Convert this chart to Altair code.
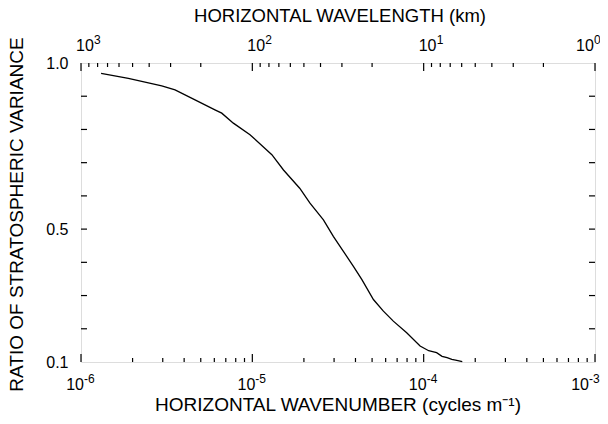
import altair as alt
import pandas as pd

# ---- data ----
wavenumber = [1.31e-6, 1.89e-6, 2.96e-6, 3.54e-6, 4.63e-6, 6.05e-6, 6.63e-6, 7.75e-6,
              9.69e-6, 1.30e-5, 1.52e-5, 1.89e-5, 2.17e-5, 2.60e-5, 2.97e-5, 3.40e-5,
              3.89e-5, 4.36e-5, 5.09e-5, 5.82e-5, 6.65e-5, 7.96e-5, 9.53e-5, 1.07e-4,
              1.19e-4, 1.28e-4, 1.37e-4, 1.46e-4, 1.56e-4, 1.68e-4]
ratio = [0.969, 0.954, 0.931, 0.919, 0.889, 0.859, 0.849, 0.819,
         0.784, 0.724, 0.678, 0.623, 0.578, 0.528, 0.478, 0.433,
         0.388, 0.348, 0.288, 0.253, 0.223, 0.188, 0.148, 0.134,
         0.128, 0.117, 0.113, 0.108, 0.105, 0.101]

bottom_major = [1e-6, 1e-5, 1e-4, 1e-3]
bottom_exp = ["-6", "-5", "-4", "-3"]
bottom_minor = [2e-6, 3e-6, 4e-6, 5e-6, 6e-6, 7e-6, 8e-6, 9e-6,
                2e-5, 3e-5, 4e-5, 5e-5, 6e-5, 7e-5, 8e-5, 9e-5,
                2e-4, 3e-4, 4e-4, 5e-4, 6e-4, 7e-4, 8e-4, 9e-4]

top_major_km = [1000, 100, 10, 1]
top_exp = ["3", "2", "1", "0"]
top_minor_km = [900, 800, 700, 600, 500, 400, 300, 200,
                90, 80, 70, 60, 50, 40, 30, 20,
                9, 8, 7, 6, 5, 4, 3, 2]

y_ticks = [0.2, 0.3, 0.4, 0.5, 0.6, 0.7, 0.8, 0.9]
y_labels = [0.1, 0.5, 1.0]

x_title = "HORIZONTAL WAVENUMBER (cycles m\u207b\u00b9)"
top_title = "HORIZONTAL WAVELENGTH (km)"
y_title = "RATIO OF STRATOSPHERIC VARIANCE"

# ---- layout ----
W, H = 514, 299
FONT = "Liberation Sans"

xs = alt.Scale(type="log", domain=[1e-6, 1e-3])
ys = alt.Scale(domain=[0.1, 1.0], zero=False, nice=False)
yaxis = alt.Axis(values=y_labels, format=".1f", ticks=False, domain=False, grid=False,
                 labelFontSize=16, labelFont=FONT, labelColor="black", labelPadding=13,
                 title=None)

curve = pd.DataFrame({"k": wavenumber, "r": ratio})
bmaj = pd.DataFrame({"k": bottom_major, "e": bottom_exp})
bmin = pd.DataFrame({"k": bottom_minor})
tmaj = pd.DataFrame({"wl": top_major_km, "e": top_exp})
tmin = pd.DataFrame({"wl": top_minor_km})
yt = pd.DataFrame({"v": y_ticks})

X = lambda f: alt.X(f, type="quantitative", scale=xs, axis=None)

line = alt.Chart(curve).mark_line(color="black", strokeWidth=1.3).encode(
    x=X("k"), y=alt.Y("r:Q", scale=ys, axis=yaxis))

b_major_ticks = alt.Chart(bmaj).mark_rule(color="black", strokeWidth=1.2).encode(
    x=X("k"), y=alt.value(H), y2=alt.value(H - 8))
b_minor_ticks = alt.Chart(bmin).mark_rule(color="black", strokeWidth=1.2).encode(
    x=X("k"), y=alt.value(H), y2=alt.value(H - 4))

t_major_ticks = alt.Chart(tmaj).transform_calculate(k="1e-3 / datum.wl").mark_rule(
    color="black", strokeWidth=1.2).encode(x=X("k"), y=alt.value(0), y2=alt.value(8))
t_minor_ticks = alt.Chart(tmin).transform_calculate(k="1e-3 / datum.wl").mark_rule(
    color="black", strokeWidth=1.2).encode(x=X("k"), y=alt.value(0), y2=alt.value(4))

l_ticks = alt.Chart(yt).mark_rule(color="black", strokeWidth=1.2).encode(
    y=alt.Y("v:Q", scale=ys, axis=yaxis), x=alt.value(0), x2=alt.value(6))
r_ticks = alt.Chart(yt).mark_rule(color="black", strokeWidth=1.2).encode(
    y=alt.Y("v:Q", scale=ys, axis=yaxis), x=alt.value(W), x2=alt.value(W - 6))


def bottom_labels(flt, shift):
    base = alt.Chart(bmaj).transform_filter(flt).mark_text(
        align="right", dx=3 + shift, fontSize=16, font=FONT, color="black",
        baseline="alphabetic").encode(x=X("k"), y=alt.value(H + 28), text=alt.value("10"))
    sup = alt.Chart(bmaj).transform_filter(flt).mark_text(
        align="left", dx=3 + shift, fontSize=12, font=FONT, color="black",
        baseline="alphabetic").encode(x=X("k"), y=alt.value(H + 21), text="e:N")
    return [base, sup]


def top_labels(flt, shift):
    src = alt.Chart(tmaj).transform_filter(flt).transform_calculate(k="1e-3 / datum.wl")
    base = src.mark_text(align="left", dx=-5 + shift, fontSize=16, font=FONT,
                         color="black", baseline="alphabetic").encode(
        x=X("k"), y=alt.value(-12), text=alt.value("10"))
    sup = src.mark_text(align="left", dx=13 + shift, fontSize=12, font=FONT,
                        color="black", baseline="alphabetic").encode(
        x=X("k"), y=alt.value(-19), text="e:N")
    return [base, sup]


labels = (bottom_labels("datum.k < 0.0009", 0) + bottom_labels("datum.k > 0.0009", -9)
          + top_labels("datum.wl > 1.5", 0) + top_labels("datum.wl < 1.5", -14))

bt = alt.Chart(pd.DataFrame({"t": [x_title]})).mark_text(
    fontSize=19, font=FONT, color="black", baseline="alphabetic", align="center").encode(
    x=alt.value(W / 2), y=alt.value(H + 49), text="t:N")
tt = alt.Chart(pd.DataFrame({"t": [top_title]})).mark_text(
    fontSize=18.5, font=FONT, color="black", baseline="alphabetic", align="center").encode(
    x=alt.value(W / 2 + 2), y=alt.value(-41), text="t:N")
yt_title = alt.Chart(pd.DataFrame({"t": [y_title]})).mark_text(
    fontSize=19, font=FONT, color="black", baseline="middle", align="center",
    angle=270).encode(x=alt.value(-64), y=alt.value(H / 2 + 2), text="t:N")

chart = alt.layer(
    line, b_major_ticks, b_minor_ticks, t_major_ticks, t_minor_ticks,
    l_ticks, r_ticks, *labels, bt, tt, yt_title
).properties(
    width=W, height=H,
    autosize=alt.AutoSizeParams(type="none"),
    padding={"left": 73, "top": 55, "right": 5, "bottom": 54},
).configure_view(stroke="black", strokeWidth=1.6).configure(background="white")

chart.save("out.html", embed_options={"renderer": "svg", "actions": False})
